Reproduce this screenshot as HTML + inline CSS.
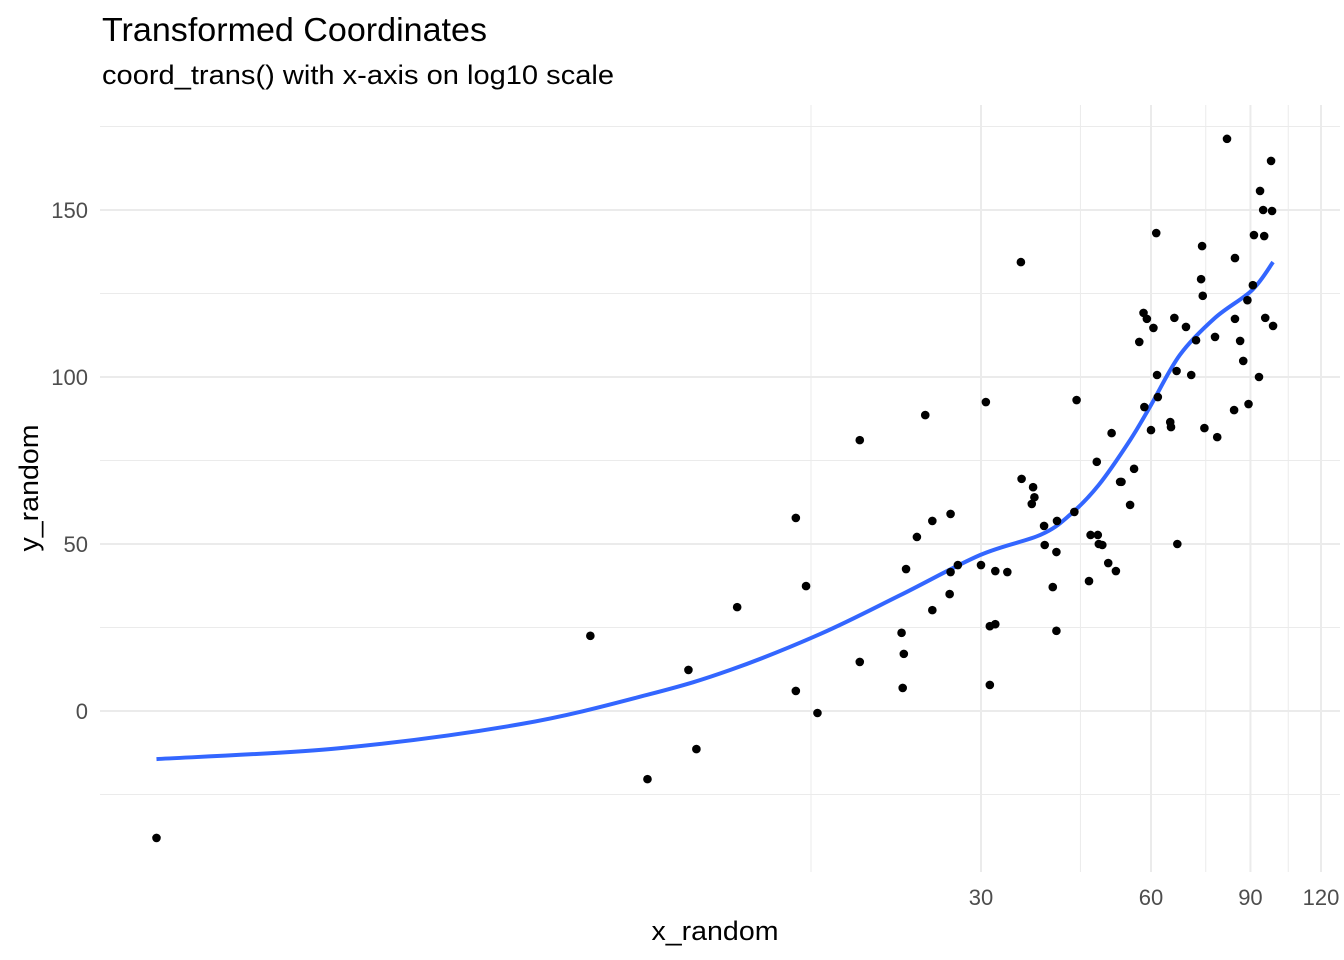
<!DOCTYPE html>
<html><head><meta charset="utf-8"><style>
body{margin:0;background:#fff;}
svg{display:block;font-family:"Liberation Sans",Arial,sans-serif;}
</style></head><body>
<svg id="chart" width="1344" height="960">
<text x="102" y="41" font-size="33" textLength="385" lengthAdjust="spacingAndGlyphs" fill="#000">Transformed Coordinates</text>
<text x="102" y="84" font-size="27" textLength="512" lengthAdjust="spacingAndGlyphs" fill="#000">coord_trans() with x-axis on log10 scale</text>
<g id="grid"></g>
<g id="smooth"></g>
<g id="points"></g>
<g id="ticks"></g>
<text x="715" y="940" font-size="27" textLength="127" lengthAdjust="spacingAndGlyphs" text-anchor="middle" fill="#000">x_random</text>
<text transform="translate(38,488) rotate(-90)" font-size="27" textLength="127" lengthAdjust="spacingAndGlyphs" text-anchor="middle" fill="#000">y_random</text>
</svg>
<script>
const xPts=[1.04,6.1,7.7,9.1,9.4,11.1,14.1,14.1,14.7,15.4,18.3,18.3,21.7,21.8,21.9,22.1,23.1,23.9,24.6,24.6,26.4,26.5,26.5,27.3,30,30.6,31.1,31.1,31.8,31.8,33.4,35.3,35.4,36.9,37.1,37.3,38.8,38.9,40.2,40.8,40.8,40.9,43.9,44.3,46.6,46.9,48.1,48.3,48.5,49.2,50.4,51.1,52.0,52.9,53.2,55.1,56.0,57.2,58.2,58.4,59,60,60.6,61.3,61.5,61.7,64.9,65.1,66.0,66.6,66.8,69.2,70.7,72.1,73.6,73.9,74.1,74.6,77.9,78.6,81.8,84.2,84.5,84.5,86.3,87.4,88.9,89.3,90.9,91.3,93.2,93.6,94.8,95.2,95.6,97.9,98.3,98.7];
const yPts=[-38,22.5,-20.4,12.3,-11.4,31.1,57.8,6,37.4,-0.6,81.1,14.7,23.4,6.9,17.1,42.5,52.1,88.6,56.9,30.2,35,59,41.6,43.7,43.7,92.5,25.4,7.8,26,41.9,41.6,134.4,69.5,62,67,64,55.4,49.7,37.1,47.6,24,56.9,59.6,93.1,38.9,52.7,74.6,52.7,50,49.7,44.3,83.2,41.9,68.6,68.6,61.7,72.5,110.5,119.2,91,117.4,84.1,114.7,143.1,100.6,94,86.5,85,117.7,101.8,50,115,100.6,111,129.3,139.2,124.3,84.7,112,82,171.3,90.1,135.6,117.4,110.8,104.8,123,91.9,127.5,142.5,100,155.7,150,142.2,117.7,164.7,149.7,115.3];
const xFit=[1.04,2.2,4.6,7.8,10.8,15.6,21.6,29.9,38.2,43.1,48.5,55.1,60,67.5,77.9,90.6,98.7];
const yFit=[-14.4,-11.1,-3.9,5.1,12.3,23.1,34.7,46.7,52.7,58.7,67.7,81.1,91.6,106.6,117.7,126,134.4];
const xMajor=[30,60,90,120], xMinor=[15,45,75,105];
const yMajor=[0,50,100,150], yMinor=[-25,25,75,125,175];
const NS='http://www.w3.org/2000/svg';
const sx=v=>981+564.7*Math.log10(v/30);
const sy=v=>711-3.34*v;
function mk(tag,attrs,parent){const e=document.createElementNS(NS,tag);for(const k in attrs)e.setAttribute(k,attrs[k]);parent.appendChild(e);return e;}
const grid=document.getElementById('grid'),ticks=document.getElementById('ticks');
yMinor.forEach(v=>{const l=mk('line',{x1:100,x2:1340,y1:sy(v),y2:sy(v),stroke:'#ebebeb','stroke-width':1},grid);

});
xMinor.forEach(v=>{const l=mk('line',{x1:sx(v),x2:sx(v),y1:105,y2:872,stroke:'#ebebeb','stroke-width':1},grid);

});
yMajor.forEach(v=>{const l=mk('line',{x1:100,x2:1340,y1:sy(v),y2:sy(v),stroke:'#ebebeb','stroke-width':2},grid);


const t=mk('text',{x:88,y:sy(v)+8,'font-size':22,'text-anchor':'end',fill:'#4d4d4d'},ticks);t.textContent=v;

});
xMajor.forEach(v=>{const l=mk('line',{x1:sx(v),x2:sx(v),y1:105,y2:872,stroke:'#ebebeb','stroke-width':2},grid);


const t=mk('text',{x:sx(v),y:905,'font-size':22,'text-anchor':'middle',fill:'#4d4d4d'},ticks);t.textContent=v;

});
const pts=document.getElementById('points');
xPts.forEach((v,i)=>{const c=mk('circle',{cx:sx(v),cy:sy(yPts[i]),r:4.3,fill:'#000'},pts);

});
// Catmull-Rom smooth path
const P=xFit.map((v,i)=>[sx(v),sy(yFit[i])]);
let d='M'+P[0][0]+','+P[0][1];
for(let i=0;i<P.length-1;i++){const p0=P[Math.max(0,i-1)],p1=P[i],p2=P[i+1],p3=P[Math.min(P.length-1,i+2)];
const c1=[p1[0]+(p2[0]-p0[0])/6,p1[1]+(p2[1]-p0[1])/6],c2=[p2[0]-(p3[0]-p1[0])/6,p2[1]-(p3[1]-p1[1])/6];
d+=' C'+c1+' '+c2+' '+p2;}
const sm=mk('path',{d:d,fill:'none',stroke:'#3366ff','stroke-width':4,'stroke-linejoin':'round'},document.getElementById('smooth'));


</script>
</body></html>
